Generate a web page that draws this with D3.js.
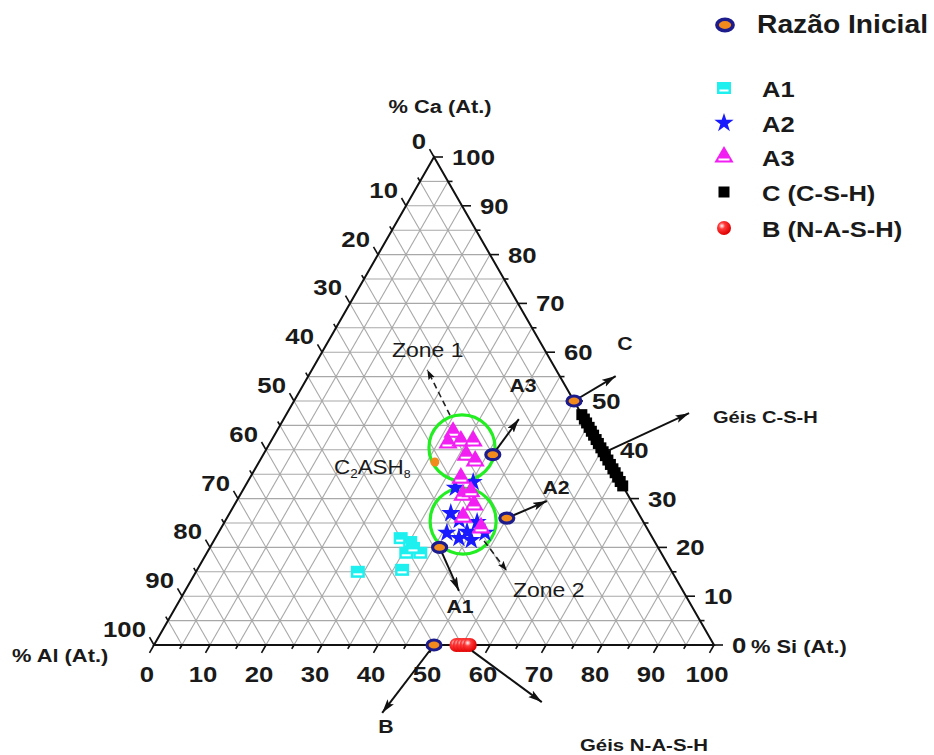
<!DOCTYPE html>
<html>
<head>
<meta charset="utf-8">
<script src="https://cdn.jsdelivr.net/npm/d3@7"></script>
<style>
body { margin: 0; background: #fff; }
svg { display: block; }
</style>
</head>
<body>
<svg id="chart" width="934" height="755"></svg>
<script>
// points are [Ca, Si] in at.%, Al = 100 - Ca - Si
var razaoInicial = [[0, 50], [50, 50], [39, 41], [26, 50], [20, 41]];
var a1 = [[15.0, 28.9], [21.9, 33.1], [21.1, 35.2], [18.9, 35.6], [18.9, 38.1], [15.4, 36.6], [19.9, 36.3]];
var a2 = [[27.0, 39.5], [25.6, 41.7], [23.0, 40.8], [23.2, 44.3], [21.9, 43.5], [25.2, 45.1],
          [33.4, 40.3], [32.2, 37.7], [21.5, 45.9], [23.0, 47.6]];
var a3 = [[43.6, 31.6], [41.4, 31.8], [41.8, 33.9], [41.8, 36.1], [38.9, 36.3], [37.7, 38.5],
          [34.2, 37.7], [30.7, 39.8], [28.7, 42.8], [26.2, 42.1], [24.0, 46.4], [31.4, 40.9]];
var cshCa = [47.2, 46.3, 45.5, 44.6, 43.8, 43.0, 42.1, 41.3, 40.4, 39.6, 38.8, 37.9, 37.0, 36.1, 35.3, 34.4, 33.5, 32.6];
var nashSi = [54.0, 54.6, 55.2, 55.8, 56.4];
var c2ash8 = [[37.5, 31.4]];
var zones = [[40.4, 34.8], [25.4, 42.5]];
var zoneRadius = 5.9;
var tickValues = [0, 5, 10, 15, 20, 25, 30, 35, 40, 45, 50, 55, 60, 65, 70, 75, 80, 85, 90, 95, 100];

// arrows: [from, to] in [Ca, Si]
var solidArrows = [
    [[39, 41], [46.3, 42.0]],    // A3
    [[50, 50], [55.1, 54.9]],    // C
    [[40.0, 61.4], [47.5, 71.8]], // Geis C-S-H
    [[26, 50], [29.5, 55.4]],    // A2
    [[20, 41], [11.1, 48.9]],    // A1
    [[0, 50], [-13.9, 47.7]],    // B
    [[-1.2, 57.4], [-11.7, 75.1]] // Geis N-A-S-H
];
var dashedArrows = [
    [[47.1, 29.3], [56.4, 20.6]], // Zone 1
    [[21.3, 48.3], [15.2, 55.4]]  // Zone 2
];

var svg = d3.select("#chart");
var FONT = "'Liberation Sans', Arial, sans-serif";

var x0 = 154, y0 = 645;
var sx = d3.scaleLinear().domain([0, 100]).range([0, 560]);
var cy = d3.scaleLinear().domain([0, 100]).range([y0, 157]);
function pt(ca, si) { return [x0 + sx(si) + sx(ca) / 2, cy(ca)]; }

var defs = svg.append("defs");
defs.append("marker")
    .attr("id", "head").attr("markerUnits", "userSpaceOnUse")
    .attr("markerWidth", 16).attr("markerHeight", 10)
    .attr("refX", 14).attr("refY", 4).attr("orient", "auto")
    .append("path").attr("d", "M0,0L14,4L0,8L3,4Z").attr("fill", "#111");
defs.append("marker")
    .attr("id", "headSmall").attr("markerUnits", "userSpaceOnUse")
    .attr("markerWidth", 12).attr("markerHeight", 8)
    .attr("refX", 10).attr("refY", 3.5).attr("orient", "auto")
    .append("path").attr("d", "M0,0L10,3.5L0,7L2,3.5Z").attr("fill", "#111");
var grad = defs.append("radialGradient").attr("id", "ball")
    .attr("cx", "35%").attr("cy", "35%").attr("r", "65%");
grad.append("stop").attr("offset", "0%").attr("stop-color", "#ffffff");
grad.append("stop").attr("offset", "35%").attr("stop-color", "#ff3a3a");
grad.append("stop").attr("offset", "100%").attr("stop-color", "#e00000");

function label(g, x, y, str, size, opts) {
    opts = opts || {};
    return g.append("text")
        .attr("transform", "translate(" + x + "," + y + ") scale(" + (opts.sx || 1.12) + ",1)")
        .attr("text-anchor", opts.anchor || "start")
        .attr("dy", "0.35em")
        .style("font-family", FONT)
        .style("font-weight", opts.normal ? "normal" : "bold")
        .style("font-size", size + "px")
        .attr("fill", opts.fill || "#1a1a1a")
        .text(str);
}

// grid
var grid = svg.append("g").attr("stroke", "#a8a8a8").attr("stroke-width", 1.1).attr("fill", "none");
tickValues.filter(function(v) { return v > 0 && v < 100; }).forEach(function(v) {
    var lines = [
        [pt(v, 0), pt(v, 100 - v)],       // Ca
        [pt(0, v), pt(100 - v, v)],       // Si
        [pt(0, 100 - v), pt(100 - v, 0)]  // Al
    ];
    lines.forEach(function(l) {
        grid.append("line")
            .attr("x1", l[0][0]).attr("y1", l[0][1])
            .attr("x2", l[1][0]).attr("y2", l[1][1]);
    });
});

// axes
var axes = svg.append("g");
var corners = [pt(0, 0), pt(0, 100), pt(100, 0)];
axes.append("path")
    .attr("d", "M" + corners.map(function(c) { return c.join(","); }).join("L") + "Z")
    .attr("fill", "none").attr("stroke", "#111").attr("stroke-width", 2)
    .attr("stroke-linejoin", "miter");

var dirCa = [1, 0], dirAl = [-0.5, -0.866], dirSi = [-0.5, 0.866];
tickValues.forEach(function(v) {
    var major = v % 10 === 0, len = major ? 9 : 4.5;
    var ticks = [
        [pt(v, 100 - v), dirCa],
        [pt(100 - v, 0), dirAl],
        [pt(0, v), dirSi]
    ];
    ticks.forEach(function(t) {
        axes.append("line")
            .attr("x1", t[0][0]).attr("y1", t[0][1])
            .attr("x2", t[0][0] + t[1][0] * len).attr("y2", t[0][1] + t[1][1] * len)
            .attr("stroke", "#111").attr("stroke-width", 1.6);
    });
    if (!major) return;
    var pc = pt(v, 100 - v), pa = pt(100 - v, 0), ps = pt(0, v);
    label(axes, pc[0] + 18, pc[1], String(v), 23);
    label(axes, pa[0] - 8, pa[1] - 16, String(v), 23, {anchor: "end"});
    label(axes, ps[0] - 7, ps[1] + 29, String(v), 23, {anchor: "middle"});
});
label(axes, 440, 106, "% Ca (At.)", 19, {anchor: "middle", sx: 1.15});
label(axes, 12, 655, "% Al (At.)", 19, {sx: 1.15});
label(axes, 751, 646, "% Si (At.)", 19, {sx: 1.15});

// zones
svg.append("g").selectAll("circle").data(zones).enter().append("circle")
    .attr("cx", function(d) { return pt(d[0], d[1])[0]; })
    .attr("cy", function(d) { return pt(d[0], d[1])[1]; })
    .attr("r", sx(zoneRadius))
    .attr("fill", "none").attr("stroke", "#22ee22").attr("stroke-width", 3.2);

// dashed arrows
svg.append("g").selectAll("line").data(dashedArrows).enter().append("line")
    .attr("x1", function(d) { return pt(d[0][0], d[0][1])[0]; })
    .attr("y1", function(d) { return pt(d[0][0], d[0][1])[1]; })
    .attr("x2", function(d) { return pt(d[1][0], d[1][1])[0]; })
    .attr("y2", function(d) { return pt(d[1][0], d[1][1])[1]; })
    .attr("stroke", "#222").attr("stroke-width", 1.6).attr("stroke-dasharray", "6,4")
    .attr("marker-end", "url(#headSmall)");

// symbols
function squareA1(g) {
    g.append("rect").attr("x", -7).attr("y", -6).attr("width", 14).attr("height", 12).attr("fill", "#1ef0f0");
    g.append("rect").attr("x", -4.5).attr("y", 1.5).attr("width", 9).attr("height", 2).attr("fill", "#fff");
}
function starA2(g) {
    g.append("path").attr("d", d3.symbol().type(d3.symbolStar).size(115)()).attr("fill", "#1a1aff");
}
function triA3(g) {
    g.append("path").attr("d", d3.symbol().type(d3.symbolTriangle).size(160)()).attr("fill", "#f21ff2");
    g.append("rect").attr("x", -5.5).attr("y", 1.5).attr("width", 11).attr("height", 2).attr("fill", "#fff");
}
function squareC(g) {
    g.append("rect").attr("x", -5.5).attr("y", -5.5).attr("width", 11).attr("height", 11).attr("fill", "#000");
}
function ballB(g) {
    g.append("circle").attr("r", 7).attr("fill", "url(#ball)");
}
function razao(g, s) {
    s = s || 1;
    g.append("ellipse").attr("rx", 7 * s).attr("ry", 5 * s)
        .attr("fill", "#f28a1c").attr("stroke", "#1c1c8c").attr("stroke-width", 3.2 * s);
}

function plot(data, draw) {
    svg.append("g").selectAll("g").data(data).enter().append("g")
        .attr("transform", function(d) { return "translate(" + pt(d[0], d[1]) + ")"; })
        .each(function() { draw(d3.select(this)); });
}

plot(a1, squareA1);
plot(a2, starA2);
plot(a3, triA3);
plot(cshCa.map(function(c) { return [c, 100 - c]; }), squareC);
plot(nashSi.map(function(s) { return [0, s]; }), ballB);
svg.append("g").selectAll("circle").data(c2ash8).enter().append("circle")
    .attr("cx", function(d) { return pt(d[0], d[1])[0]; })
    .attr("cy", function(d) { return pt(d[0], d[1])[1]; })
    .attr("r", 4.5).attr("fill", "#f28a1c");

// solid arrows
svg.append("g").selectAll("line").data(solidArrows).enter().append("line")
    .attr("x1", function(d) { return pt(d[0][0], d[0][1])[0]; })
    .attr("y1", function(d) { return pt(d[0][0], d[0][1])[1]; })
    .attr("x2", function(d) { return pt(d[1][0], d[1][1])[0]; })
    .attr("y2", function(d) { return pt(d[1][0], d[1][1])[1]; })
    .attr("stroke", "#111").attr("stroke-width", 2)
    .attr("marker-end", "url(#head)");

plot(razaoInicial, function(g) { razao(g); });

// annotations
var ann = svg.append("g");
label(ann, 523, 385, "A3", 19, {anchor: "middle"});
label(ann, 625, 343, "C", 19, {anchor: "middle"});
label(ann, 713, 417, "Géis C-S-H", 17, {sx: 1.18});
label(ann, 556, 487, "A2", 19, {anchor: "middle"});
label(ann, 460, 606, "A1", 19, {anchor: "middle"});
label(ann, 386, 726, "B", 19, {anchor: "middle"});
label(ann, 580, 745, "Géis N-A-S-H", 17, {sx: 1.2});
label(ann, 392, 350, "Zone 1", 20, {normal: true, sx: 1.15});
label(ann, 513, 590, "Zone 2", 20, {normal: true, sx: 1.15});
var c2 = ann.append("text")
    .attr("transform", "translate(334,474) scale(1.12,1)")
    .style("font-family", FONT).style("font-size", "20px").attr("fill", "#1a1a1a");
c2.append("tspan").text("C");
c2.append("tspan").attr("dy", 4).style("font-size", "12px").text("2");
c2.append("tspan").attr("dy", -4).text("ASH");
c2.append("tspan").attr("dy", 4).style("font-size", "11px").text("8");

// legend
var legendItems = [
    {name: "A1", y: 88, draw: squareA1},
    {name: "A2", y: 123, draw: starA2},
    {name: "A3", y: 157, draw: triA3},
    {name: "C (C-S-H)", y: 192, draw: squareC},
    {name: "B (N-A-S-H)", y: 228, draw: ballB}
];
var leg = svg.append("g");
var rg = leg.append("g").attr("transform", "translate(725,25)");
razao(rg, 1.15);
label(leg, 757, 24, "Razão Inicial", 25, {sx: 1.13});
legendItems.forEach(function(it) {
    var g = leg.append("g").attr("transform", "translate(724," + it.y + ")");
    it.draw(g);
    label(leg, 762, it.y + 1, it.name, 22, {sx: 1.16});
});
</script>
</body>
</html>
